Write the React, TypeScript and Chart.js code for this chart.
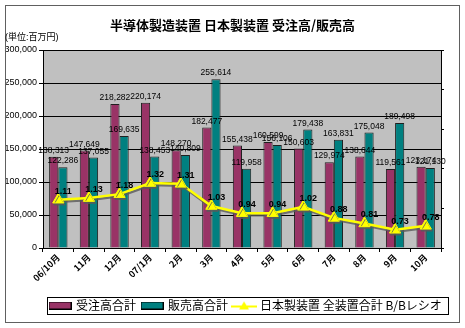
import React, { useEffect, useRef } from 'react';
import { Chart, registerables } from 'chart.js';

Chart.register(...registerables);

const categories = ['06/10月', '11月', '12月', '07/1月', '2月', '3月', '4月', '5月', '6月', '7月', '8月', '9月', '10月'];
const orders = [138313, 147649, 218282, 220174, 148270, 182477, 155438, 160599, 150603, 129974, 138644, 119561, 123174];
const sales = [122286, 137055, 169635, 138453, 140809, 255614, 119958, 156106, 179438, 163831, 175048, 189498, 121130];
const ratios = [1.11, 1.13, 1.18, 1.32, 1.31, 1.03, 0.94, 0.94, 1.02, 0.88, 0.81, 0.73, 0.78];
const seriesNames = ['受注高合計', '販売高合計', '日本製装置 全装置合計 B/Bレシオ'];
const titleText = '半導体製造装置 日本製装置 受注高/販売高';
const unitText = '(単位:百万円)';

const LATIN = "'Liberation Sans', 'Noto Sans CJK JP', sans-serif";
const CJK = "'Noto Sans CJK JP', 'Liberation Sans', sans-serif";

const ORDER_COLOR = '#993366';
const SALES_COLOR = '#008080';
const LINE_COLOR = '#ffff00';

function makeBox(color: string) {
  const c = document.createElement('canvas');
  c.width = 23;
  c.height = 8;
  const g = c.getContext('2d')!;
  g.fillStyle = color;
  g.fillRect(0, 0, 23, 8);
  g.strokeStyle = '#000';
  g.lineWidth = 1;
  g.strokeRect(0.5, 0.5, 22, 7);
  return c;
}

function makeLineMarker() {
  const c = document.createElement('canvas');
  c.width = 26;
  c.height = 12;
  const g = c.getContext('2d')!;
  g.strokeStyle = LINE_COLOR;
  g.lineWidth = 2;
  g.beginPath();
  g.moveTo(0, 7);
  g.lineTo(26, 7);
  g.stroke();
  g.fillStyle = LINE_COLOR;
  g.beginPath();
  g.moveTo(13, 2);
  g.lineTo(18, 10);
  g.lineTo(8, 10);
  g.closePath();
  g.fill();
  return c;
}

const decor = {
  id: 'decor',
  beforeDraw(chart: any) {
    const { ctx, chartArea: a } = chart;
    ctx.save();
    ctx.fillStyle = '#c0c0c0';
    ctx.fillRect(a.left, a.top, a.right - a.left, a.bottom - a.top);
    ctx.restore();
  },
  afterLayout(chart: any) {
    const lg = chart.legend;
    if (lg) {
      lg.left = 44;
      lg.right = 560;
    }
  },
  beforeDatasetDraw(chart: any, args: any) {
    if (args.index === 2) {
      const ctx = chart.ctx;
      ctx.save();
      ctx.shadowColor = 'rgba(90,90,90,0.8)';
      ctx.shadowOffsetX = 1;
      ctx.shadowOffsetY = 2;
      ctx.shadowBlur = 0;
    }
  },
  afterDatasetDraw(chart: any, args: any) {
    if (args.index === 2) chart.ctx.restore();
  },
  afterDatasetsDraw(chart: any) {
    const ctx = chart.ctx;
    ctx.save();
    ctx.fillStyle = '#000';
    ctx.textAlign = 'center';
    ctx.textBaseline = 'bottom';
    ctx.font = `8.5px ${LATIN}`;
    [0, 1].forEach((di) => {
      const meta = chart.getDatasetMeta(di);
      const data = chart.data.datasets[di].data;
      meta.data.forEach((el: any, i: number) => {
        ctx.fillText(Number(data[i]).toLocaleString('en-US'), el.x, el.y - 2);
      });
    });
    ctx.font = `bold 9px ${LATIN}`;
    const lm = chart.getDatasetMeta(2);
    lm.data.forEach((el: any, i: number) => {
      ctx.fillText(ratios[i].toFixed(2), el.x + 5, el.y - 4);
    });
    ctx.restore();
  },
  afterDraw(chart: any) {
    const ctx = chart.ctx;
    ctx.save();
    ctx.strokeStyle = '#606060';
    ctx.lineWidth = 1;
    ctx.strokeRect(5.5, 5.5, 454, 317);
    ctx.fillStyle = '#000';
    ctx.font = `9px ${LATIN}`;
    ctx.textAlign = 'left';
    ctx.textBaseline = 'middle';
    ctx.fillText(unitText, 5, 38);
    const lg = chart.legend;
    if (lg && lg.lineWidths) {
      const pad = 6;
      const cy = lg.top + pad + 6;
      const x0 = lg.left + pad - 3;
      const x1 = lg.left + pad + lg.lineWidths[0];
      ctx.strokeStyle = '#000';
      ctx.strokeRect(Math.round(x0) + 0.5, Math.round(cy - 9) + 0.5, Math.round(x1 - x0), 17);
    }
    ctx.restore();
  },
};

export default function App() {
  const ref = useRef<HTMLCanvasElement>(null);
  useEffect(() => {
    const markers = [makeBox(ORDER_COLOR), makeBox(SALES_COLOR), makeLineMarker()];
    const chart = new Chart(ref.current!, {
      type: 'bar',
      data: {
        labels: categories,
        datasets: [
          {
            type: 'bar',
            label: seriesNames[0],
            data: orders,
            backgroundColor: ORDER_COLOR,
            borderColor: '#202020',
            borderWidth: 1,
            yAxisID: 'y',
            order: 1,
            categoryPercentage: 0.6,
            barPercentage: 1.0,
          },
          {
            type: 'bar',
            label: seriesNames[1],
            data: sales,
            backgroundColor: SALES_COLOR,
            borderColor: '#202020',
            borderWidth: 1,
            yAxisID: 'y',
            order: 1,
            categoryPercentage: 0.6,
            barPercentage: 1.0,
          },
          {
            type: 'line',
            label: seriesNames[2],
            data: ratios,
            borderColor: LINE_COLOR,
            backgroundColor: LINE_COLOR,
            borderWidth: 2.5,
            pointStyle: 'triangle',
            pointRadius: 6.5,
            pointBackgroundColor: LINE_COLOR,
            pointBorderColor: LINE_COLOR,
            pointBorderWidth: 1,
            yAxisID: 'y1',
            order: 0,
            tension: 0,
          },
        ] as any,
      },
      options: {
        responsive: false,
        animation: false,
        layout: { padding: { left: 0, right: 0, top: 0, bottom: 6.5 } },
        plugins: {
          title: {
            display: true,
            text: titleText,
            color: '#000',
            font: { family: CJK, size: 13, weight: 'bold' },
            padding: { top: 17, bottom: 17.4 },
          },
          legend: {
            position: 'bottom',
            align: 'start',
            labels: {
              usePointStyle: true,
              pointStyleWidth: 20,
              padding: 6,
              color: '#000',
              font: { family: CJK, size: 12 },
              sort: (a: any, b: any) => a.datasetIndex - b.datasetIndex,
              generateLabels: (ch: any) => {
                const items = (Chart.defaults.plugins.legend.labels as any).generateLabels(ch);
                return items.map((it: any) => ({ ...it, pointStyle: markers[it.datasetIndex] }));
              },
            },
          },
          tooltip: { enabled: false },
        },
        scales: {
          x: {
            offset: true,
            grid: { display: true, drawOnChartArea: false, offset: true, color: '#000', tickLength: 4 },
            border: { color: '#000' },
            ticks: {
              font: { family: CJK, size: 9, weight: 'bold' },
              color: '#000',
              minRotation: 45,
              maxRotation: 45,
              autoSkip: false,
              padding: 0,
            },
            afterFit: (s: any) => {
              s.height = 45.5;
            },
          },
          y: {
            min: 0,
            max: 300000,
            ticks: {
              stepSize: 50000,
              font: { family: LATIN, size: 9 },
              color: '#000',
              padding: 2,
              callback: (v: any) => Number(v).toLocaleString('en-US'),
            },
            grid: { color: '#000', tickLength: 4 },
            border: { color: '#000' },
            afterFit: (s: any) => {
              s.width = 43;
            },
          },
          y1: {
            position: 'right',
            min: 0.5,
            max: 3.0,
            ticks: { stepSize: 0.5, display: false },
            grid: { drawOnChartArea: false, color: '#000', tickLength: 3 },
            border: { color: '#000' },
            afterFit: (s: any) => {
              s.width = 24;
            },
          },
        },
      } as any,
      plugins: [decor],
    });
    return () => chart.destroy();
  }, []);
  return (
    <div style={{ position: 'absolute', left: 0, top: 0, width: 465, height: 328 }}>
      <canvas ref={ref} width={465} height={328} />
    </div>
  );
}
